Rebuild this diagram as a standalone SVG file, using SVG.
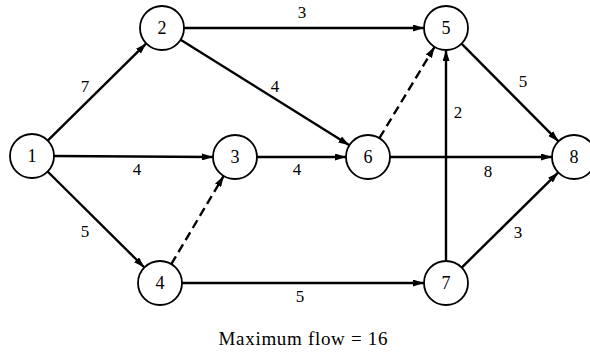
<svg xmlns="http://www.w3.org/2000/svg" width="590" height="353" viewBox="0 0 590 353">
<style>
.node circle{fill:#fff;stroke:#000;stroke-width:1.8}
.node text{font-family:"Liberation Serif",serif;font-size:18px;text-anchor:middle;dominant-baseline:central;fill:#000}
.edge{stroke:#000;stroke-width:2.4;fill:none;marker-end:url(#arr)}
.dash{stroke-dasharray:9 5}
.lbl{font-family:"Liberation Serif",serif;font-size:17px;text-anchor:middle;fill:#000}
</style>
<defs>
<marker id="arr" markerUnits="userSpaceOnUse" markerWidth="11" markerHeight="7" refX="11" refY="3.5" orient="auto">
<path d="M0,0 L11,3.5 L0,7 z" fill="#000"/>
</marker>
</defs>
<rect width="590" height="353" fill="#fff"/>
<g id="connectors">
<line class="edge" x1="47.7" y1="140.6" x2="146.3" y2="43.4"/>
<line class="edge" x1="54" y1="156" x2="213" y2="157"/>
<line class="edge" x1="47.6" y1="171.5" x2="144.4" y2="267.5"/>
<line class="edge" x1="184" y1="28" x2="424" y2="28"/>
<line class="edge" x1="180.6" y1="39.7" x2="349.4" y2="145.3"/>
<line class="edge" x1="257" y1="157" x2="346" y2="157"/>
<line class="edge dash" x1="171.3" y1="264.1" x2="223.7" y2="175.9"/>
<line class="edge" x1="182" y1="283" x2="424" y2="283"/>
<line class="edge dash" x1="379.4" y1="138.2" x2="434.6" y2="46.8"/>
<line class="edge" x1="390" y1="157" x2="552" y2="157"/>
<line class="edge" x1="446" y1="261" x2="446" y2="50"/>
<line class="edge" x1="461.5" y1="43.6" x2="558.5" y2="141.4"/>
<line class="edge" x1="461.7" y1="267.6" x2="558.3" y2="172.4"/>
</g>
<g id="labels">
<text class="lbl" x="85" y="92">7</text>
<text class="lbl" x="302" y="18">3</text>
<text class="lbl" x="275" y="92">4</text>
<text class="lbl" x="137" y="175">4</text>
<text class="lbl" x="297" y="175">4</text>
<text class="lbl" x="523" y="87">5</text>
<text class="lbl" x="458" y="118">2</text>
<text class="lbl" x="488" y="177">8</text>
<text class="lbl" x="85" y="237">5</text>
<text class="lbl" x="300" y="302">5</text>
<text class="lbl" x="518" y="238">3</text>
<text class="lbl" x="303" y="345" style="font-size:19px" textLength="169" lengthAdjust="spacing">Maximum flow = 16</text>
</g>
<g id="n1" class="node"><circle cx="32" cy="156" r="22"/><text x="32" y="156">1</text></g>
<g id="n2" class="node"><circle cx="162" cy="28" r="22"/><text x="162" y="28">2</text></g>
<g id="n3" class="node"><circle cx="235" cy="157" r="22"/><text x="235" y="157">3</text></g>
<g id="n4" class="node"><circle cx="160" cy="283" r="22"/><text x="160" y="283">4</text></g>
<g id="n5" class="node"><circle cx="446" cy="28" r="22"/><text x="446" y="28">5</text></g>
<g id="n6" class="node"><circle cx="368" cy="157" r="22"/><text x="368" y="157">6</text></g>
<g id="n7" class="node"><circle cx="446" cy="283" r="22"/><text x="446" y="283">7</text></g>
<g id="n8" class="node"><circle cx="574" cy="157" r="22"/><text x="574" y="157">8</text></g>
</svg>
